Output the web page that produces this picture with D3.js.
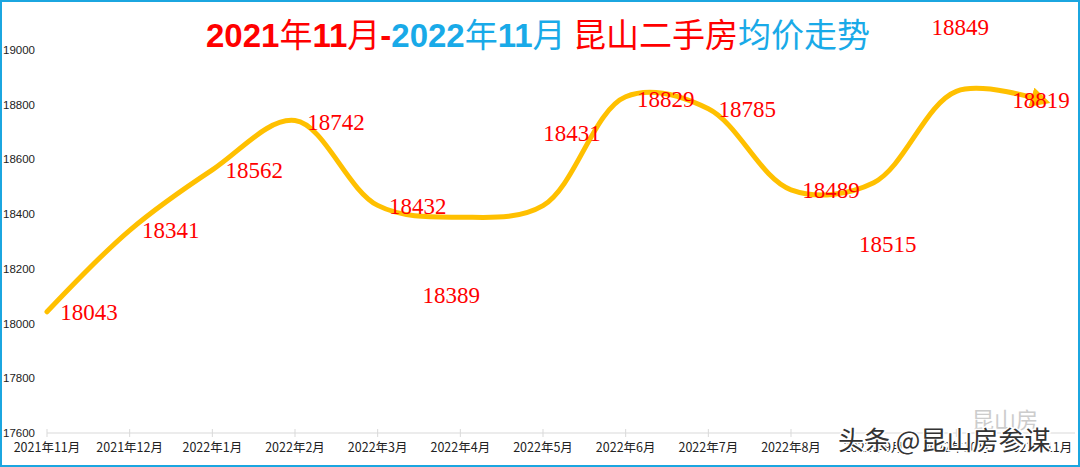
<!DOCTYPE html>
<html>
<head>
<meta charset="utf-8">
<script src="https://cdn.jsdelivr.net/npm/d3@7"></script>
<style>
  html, body { margin: 0; padding: 0; background: #fff; }
  svg { display: block; }
</style>
</head>
<body>
<div id="chart"></div>
<script>
const months = ['2021年11月', '2021年12月', '2022年1月', '2022年2月', '2022年3月', '2022年4月', '2022年5月',
  '2022年6月', '2022年7月', '2022年8月', '2022年9月', '2022年10月', '2022年11月'];
const prices = [18043, 18341, 18562, 18742, 18432, 18389, 18431, 18829, 18785, 18489, 18515, 18849, 18819];
const yTicks = [17600, 17800, 18000, 18200, 18400, 18600, 18800, 19000];

// label nudges (px) relative to each point
const LABEL_DX = [42, 41, 42, 41, 40, -9, 29, 40, 39, 40, 14, 4, 2];
const LABEL_DY = [8, 8, 8, 9, 9, 86, -65, 10, 8, 8, 69, -56, 8];

const W = 1080, H = 467;
const YELLOW = '#ffc000';
const RED = '#ff0000';
const BLUE = '#19aae8';

const svg = d3.select('#chart').append('svg').attr('width', W).attr('height', H);

svg.append('rect').attr('x', 1).attr('y', 1).attr('width', W - 2).attr('height', H - 2)
  .attr('fill', '#fff').attr('stroke', '#1ba6e0').attr('stroke-width', 2);

const x = d3.scalePoint().domain(months).range([47, 1039]);
const y = d3.scaleLinear().domain([17600, 19000]).range([433, 50]);

// y labels
svg.append('g').selectAll('text').data(yTicks).join('text')
  .attr('x', 3).attr('y', d => y(d) + 4)
  .attr('font-family', 'Arial, Liberation Sans, sans-serif').attr('font-size', 11.5).attr('fill', '#222')
  .text(d => d);

// x axis line + ticks
const xg = svg.append('g');
xg.append('line').attr('x1', 47).attr('x2', 1075).attr('y1', 433).attr('y2', 433)
  .attr('stroke', '#d9d9d9').attr('stroke-width', 1);
xg.selectAll('line.t').data(months).join('line').attr('class', 't')
  .attr('x1', d => x(d)).attr('x2', d => x(d)).attr('y1', 429).attr('y2', 437)
  .attr('stroke', '#d9d9d9');
xg.selectAll('text').data(months).join('text')
  .attr('x', d => x(d)).attr('y', 452).attr('text-anchor', 'middle')
  .attr('font-family', 'Noto Sans CJK SC, sans-serif').attr('font-size', 12.5).attr('fill', '#222')
  .text(d => d);

// curve
svg.append('defs').append('marker').attr('id', 'arrow')
  .attr('viewBox', '0 0 10 10').attr('refX', 4).attr('refY', 5)
  .attr('markerWidth', 4).attr('markerHeight', 4).attr('orient', 'auto')
  .append('path').attr('d', 'M0,0 L10,5 L0,10 z').attr('fill', YELLOW);

const line = d3.line().x((d, i) => x(months[i])).y(d => y(d)).curve(d3.curveCatmullRom.alpha(0.5));
svg.append('path').datum(prices).attr('d', line)
  .attr('fill', 'none').attr('stroke', YELLOW).attr('stroke-width', 5)
  .attr('stroke-linecap', 'round').attr('marker-end', 'url(#arrow)');

// value labels
svg.append('g').selectAll('text').data(prices).join('text')
  .attr('x', (d, i) => x(months[i]) + LABEL_DX[i]).attr('y', (d, i) => y(d) + LABEL_DY[i])
  .attr('text-anchor', 'middle')
  .attr('font-family', 'Liberation Serif, DejaVu Serif, serif').attr('font-size', 23).attr('fill', RED)
  .text(d => d);

// title
const title = svg.append('text').attr('x', 538).attr('y', 47).attr('text-anchor', 'middle')
  .attr('font-size', 33);
const parts = [
  ['2021', RED, true], ['年', RED, false], ['11', RED, true], ['月', RED, false], ['-', RED, true],
  ['2022', BLUE, true], ['年', BLUE, false], ['11', BLUE, true], ['月 ', BLUE, false],
  ['昆山二手房', RED, false], ['均价走势', BLUE, false]
];
parts.forEach(([t, c, b]) => {
  title.append('tspan').text(t).attr('fill', c)
    .attr('font-weight', b ? 'bold' : 'normal')
    .attr('font-family', b ? 'Liberation Sans, Arial, sans-serif' : 'Noto Sans CJK SC, sans-serif');
});

// watermark
svg.append('text').attr('x', 972).attr('y', 428).attr('font-family', 'Noto Sans CJK SC, sans-serif')
  .attr('font-size', 22).attr('fill', '#ccc').text('昆山房');
svg.append('text').attr('x', 838).attr('y', 450).attr('font-family', 'Noto Sans CJK SC, sans-serif')
  .attr('font-size', 26).attr('fill', '#333').attr('stroke', '#fff').attr('stroke-width', 3)
  .attr('paint-order', 'stroke').text('头条 @昆山房参谋');
</script>
</body>
</html>
